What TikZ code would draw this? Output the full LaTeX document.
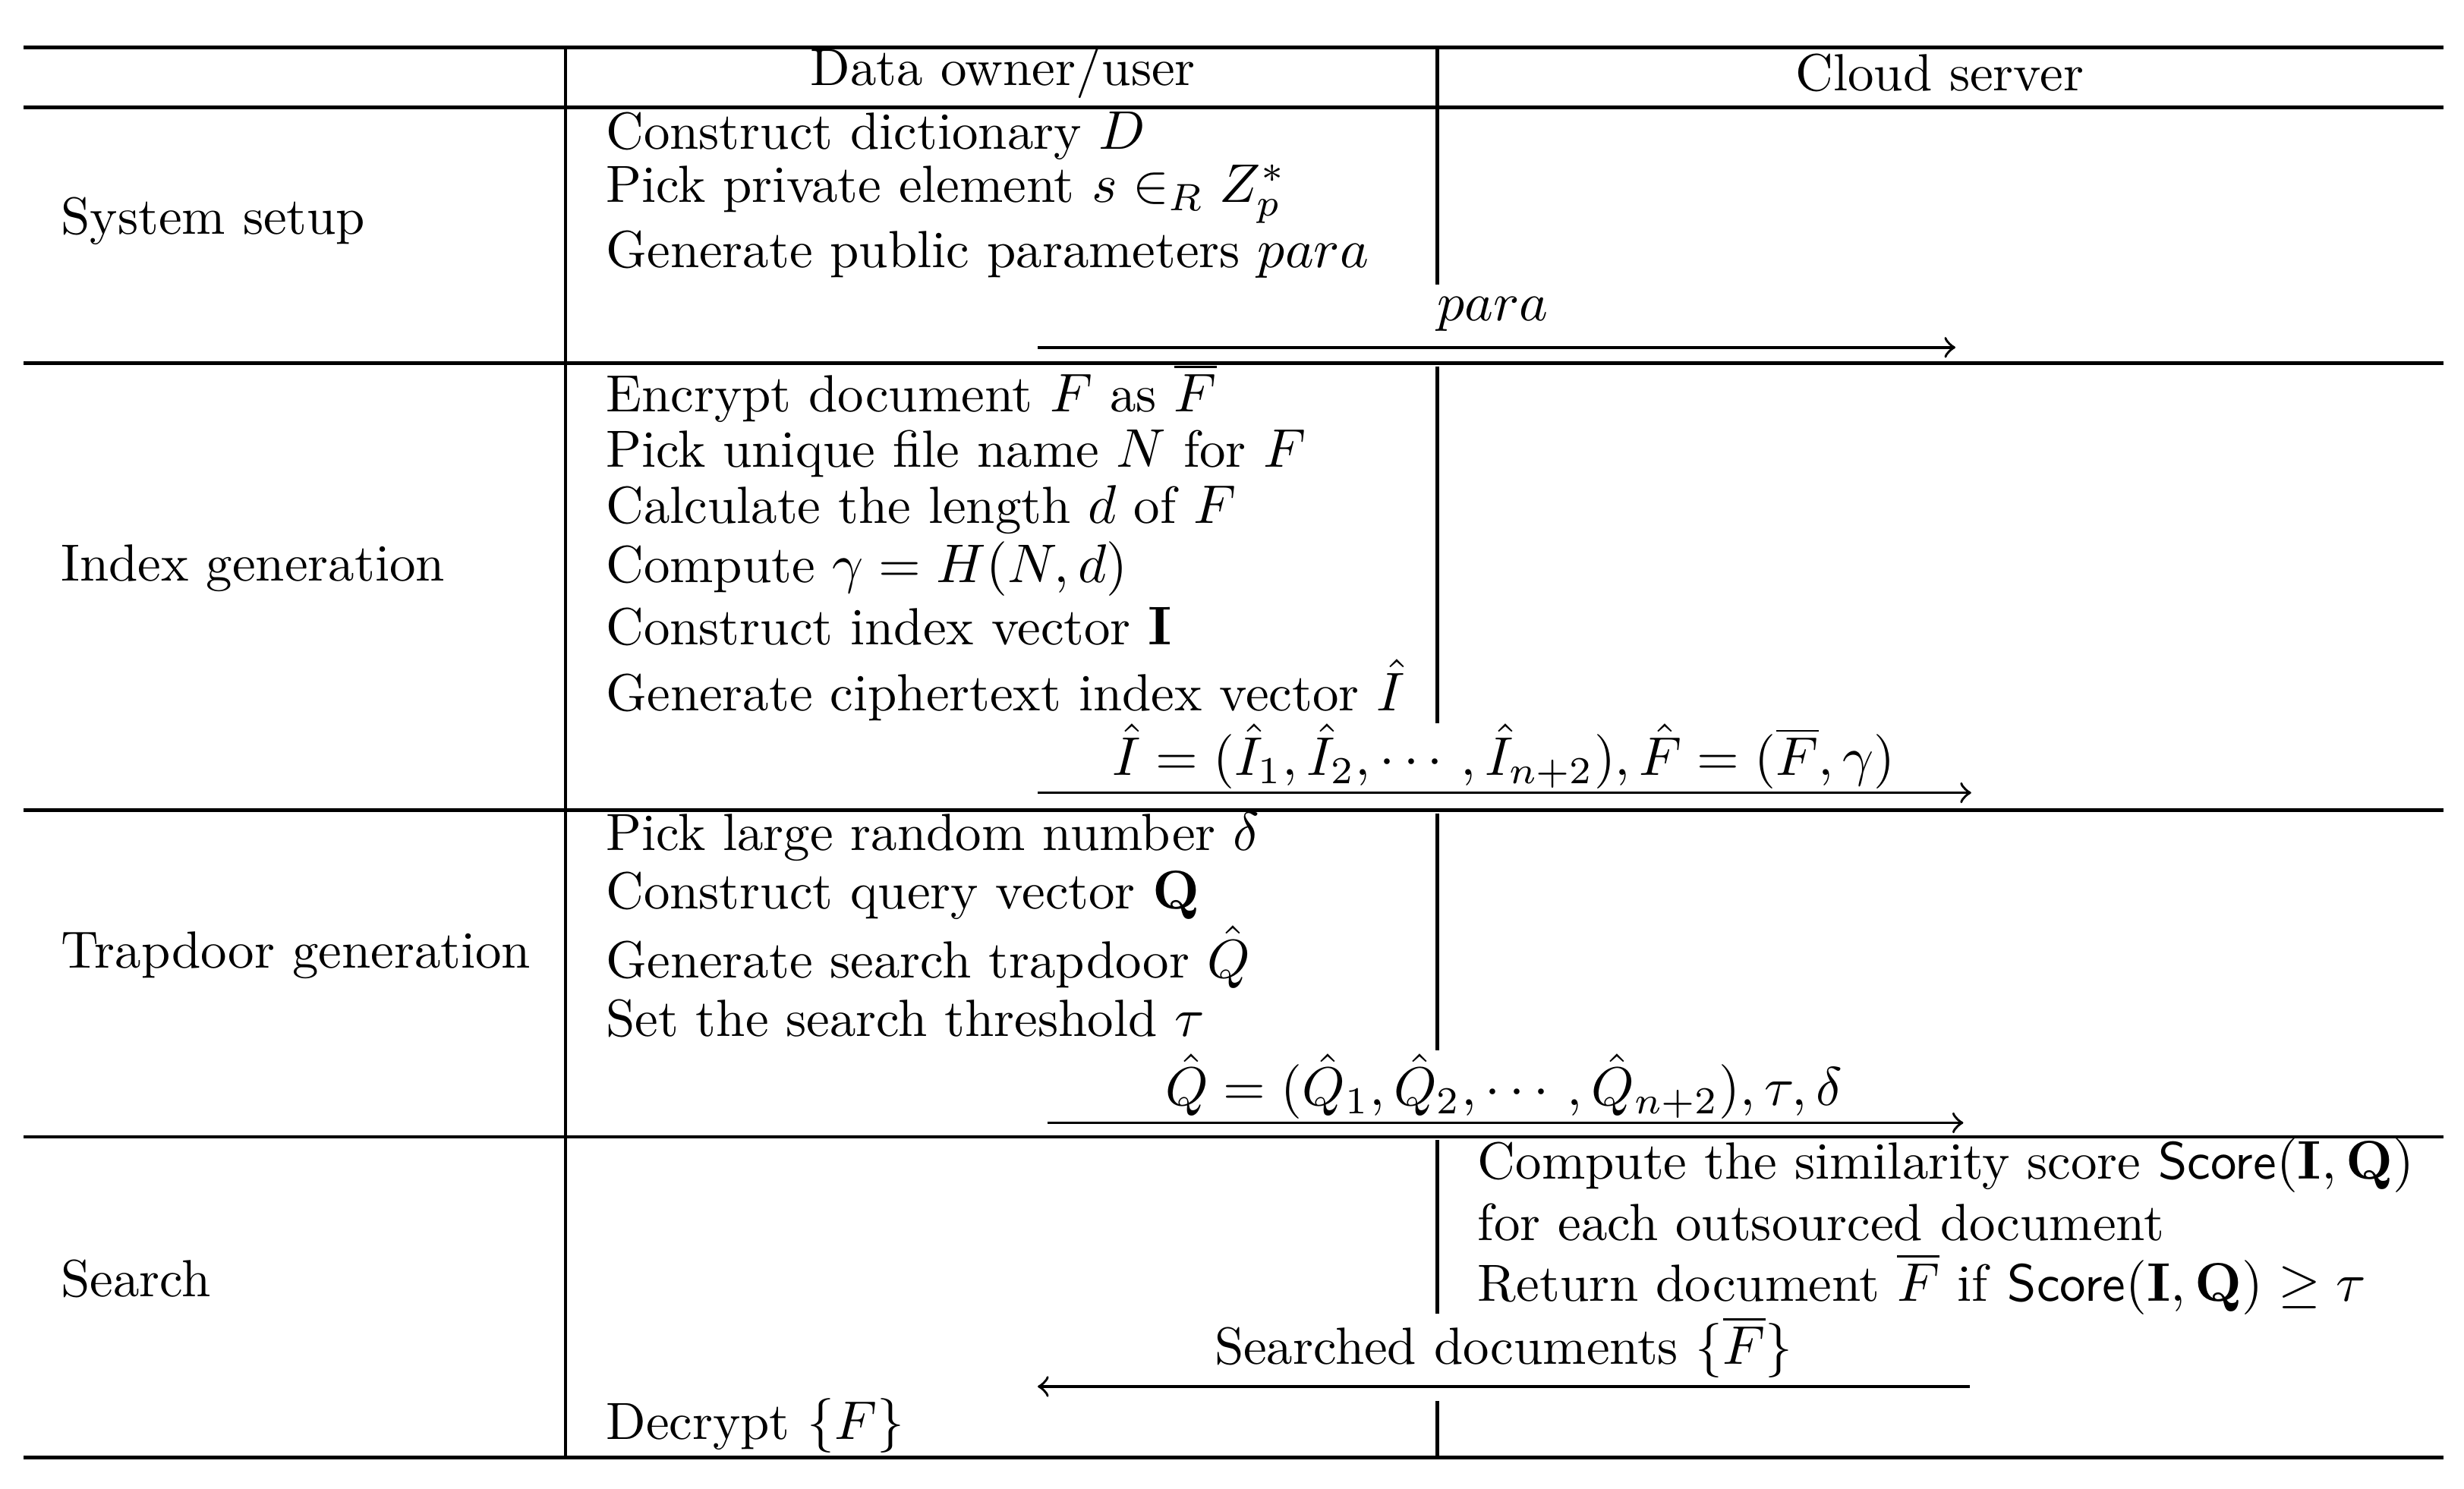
\documentclass[tikz,border=0pt]{standalone}
\usepackage{amsmath,amssymb}
\begin{document}
\begin{tikzpicture}[x=0.29pt,y=-0.29pt,
  rule/.style={line width=0.6pt},
  msg/.style={->,line width=0.5pt},
  txt/.style={anchor=west,inner sep=0pt,font=\fontsize{9.6}{11.5}\selectfont},
  lab/.style={inner sep=0pt,font=\fontsize{9.6}{11.5}\selectfont}]
\useasboundingbox (0,0) rectangle (1560,942.6);
% rules
\foreach \y in {30,68,230,513,720,923} \draw[rule] (15,\y) -- (1547,\y);
\draw[rule] (358,30) -- (358,923);
\foreach \a/\b in {30/180,232/458,515/665,722/832,887/923} \draw[rule] (910,\a) -- (910,\b);
% headers
\node[lab] (h1) at (635,46) {Data owner/user};
\node[lab] (h2) at (1228,46) {Cloud server};
% left labels
\node[txt] (l1) at (38,140) {System setup};
\node[txt] (l2) at (38,360) {Index generation};
\node[txt] (l3) at (38,605) {Trapdoor generation};
\node[txt] (l4) at (38,810) {Search};
% row1
\node[txt] (a1) at (383,86) {Construct dictionary $D$};
\node[txt] (a2) at (383,123) {Pick private element $s\in_R Z_p^*$};
\node[txt] (a3) at (383,161) {Generate public parameters $para$};
\coordinate (p1s) at (657,220); \coordinate (p1e) at (1238,220);
\draw[msg] (p1s) -- (p1e);
\node[lab] (m1) at (945,199) {$para$};
% row2
\node[txt] (b1) at (383,249) {Encrypt document $F$ as $\overline{F}$};
\node[txt] (b2) at (383,287) {Pick unique file name $N$ for $F$};
\node[txt] (b3) at (383,323) {Calculate the length $d$ of $F$};
\node[txt] (b4) at (383,360) {Compute $\gamma=H(N,d)$};
\node[txt] (b5) at (383,397) {Construct index vector $\mathbf{I}$};
\node[txt] (b6) at (383,437) {Generate ciphertext index vector $\hat{I}$};
\coordinate (p2s) at (657,502); \coordinate (p2e) at (1248,502);
\draw[msg] (p2s) -- (p2e);
\node[lab] (m2) at (952,479) {$\hat{I}=(\hat{I}_1,\hat{I}_2,\cdots,\hat{I}_{n+2}),\hat{F}=(\overline{F},\gamma)$};
% row3
\node[txt] (c1) at (383,530) {Pick large random number $\delta$};
\node[txt] (c2) at (383,567) {Construct query vector $\mathbf{Q}$};
\node[txt] (c3) at (383,606) {Generate search trapdoor $\hat{Q}$};
\node[txt] (c4) at (383,645) {Set the search threshold $\tau$};
\coordinate (p3s) at (663,711); \coordinate (p3e) at (1243,711);
\draw[msg] (p3s) -- (p3e);
\node[lab] (m3) at (952,688) {$\hat{Q}=(\hat{Q}_1,\hat{Q}_2,\cdots,\hat{Q}_{n+2}),\tau,\delta$};
% row4
\node[txt] (d1) at (935,738) {Compute the similarity score \textsf{Score}$(\mathbf{I},\mathbf{Q})$};
\node[txt] (d2) at (935,774) {for each outsourced document};
\node[txt] (d3) at (935,813) {Return document $\overline{F}$ if \textsf{Score}$(\mathbf{I},\mathbf{Q})\geq\tau$};
\coordinate (p4s) at (1247,878); \coordinate (p4e) at (657,878);
\draw[msg] (p4s) -- (p4e);
\node[lab] (m4) at (952,853) {Searched documents $\{\overline{F}\}$};
\node[txt] (d4) at (383,903) {Decrypt $\{F\}$};
\end{tikzpicture}
\end{document}
